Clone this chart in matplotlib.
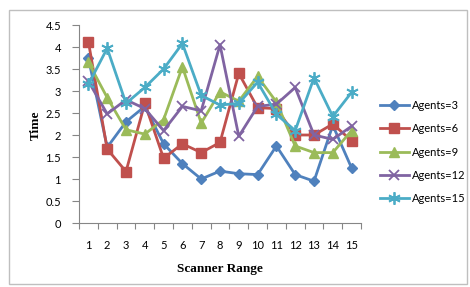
"""Time vs scanner range for different agent counts."""

import matplotlib

matplotlib.use("Agg")
import matplotlib.pyplot as plt
from matplotlib.patches import Rectangle
from matplotlib.ticker import FixedLocator, FuncFormatter

scanner_range = list(range(1, 16))
agents_3 = [3.75, 1.72, 2.3, 2.65, 1.8, 1.35, 1.0, 1.18, 1.12, 1.1, 1.75, 1.1, 0.95, 2.22, 1.25]
agents_6 = [4.12, 1.68, 1.17, 2.72, 1.47, 1.8, 1.6, 1.83, 3.4, 2.62, 2.6, 2.0, 2.0, 2.25, 1.87]
agents_9 = [3.65, 2.85, 2.12, 2.02, 2.35, 3.55, 2.27, 2.98, 2.77, 3.33, 2.75, 1.75, 1.6, 1.6, 2.1]
agents_12 = [3.22, 2.48, 2.8, 2.6, 2.1, 2.65, 2.55, 4.05, 1.97, 2.65, 2.7, 3.08, 2.0, 1.9, 2.2]
agents_15 = [3.15, 3.97, 2.72, 3.08, 3.5, 4.08, 2.9, 2.68, 2.72, 3.2, 2.47, 2.1, 3.3, 2.42, 2.97]

series = [
    ("Agents=3", agents_3, "#4F81BD", "D", 5),
    ("Agents=6", agents_6, "#C0504D", "s", 7),
    ("Agents=9", agents_9, "#9BBB59", "^", 7),
    ("Agents=12", agents_12, "#8064A2", "x", 7),
    ("Agents=15", agents_15, "#4BACC6", (6, 2, 0), 9),
]

plt.rcParams["font.family"] = ["Lato", "DejaVu Sans"]

fig = plt.figure(figsize=(4.7, 2.87), dpi=100)
fig.patches.append(Rectangle((9 / 470, 3 / 287), 458 / 470, 274 / 287,
                             transform=fig.transFigure, fill=False,
                             edgecolor="#BFBFBF", linewidth=1))
ax = fig.add_axes([79 / 470, 64 / 287, 282 / 470, 198 / 287])

for label, values, color, marker, size in series:
    ax.plot(scanner_range, values, color=color, marker=marker, markersize=size,
            linewidth=2, markeredgewidth=1.3 if marker in ("x", (6, 2, 0)) else 1,
            label=label)

ax.set_xlim(0.5, 15.5)
ax.set_ylim(0, 4.5)
ax.set_yticks([i * 0.5 for i in range(10)])
ax.yaxis.set_major_formatter(FuncFormatter(lambda v, _: f"{v:g}"))
ax.xaxis.set_major_locator(FixedLocator([i + 0.5 for i in range(16)]))
ax.xaxis.set_major_formatter(FuncFormatter(lambda v, _: ""))
ax.xaxis.set_minor_locator(FixedLocator(scanner_range))
ax.xaxis.set_minor_formatter(FuncFormatter(lambda v, _: f"{v:g}"))
ax.tick_params(axis="x", which="major", length=4, color="#868686", direction="out")
ax.tick_params(axis="x", which="minor", length=0, pad=12, labelsize=8)
ax.tick_params(axis="y", length=5, color="#868686", pad=8, labelsize=8)

for side in ("top", "right"):
    ax.spines[side].set_visible(False)
for side in ("left", "bottom"):
    ax.spines[side].set_color("#868686")

fig.text(36 / 470, 1 - 125 / 287, "Time", rotation=90, ha="center", va="center",
         family="Liberation Serif", fontweight="bold", fontsize=9.5)
fig.text(220 / 470, 1 - 269 / 287, "Scanner Range", ha="center", va="center",
         family="Liberation Serif", fontweight="bold", fontsize=9.5)

fig.legend(loc="center left", bbox_to_anchor=(380 / 470, 1 - 152 / 287),
           frameon=False, fontsize=8, handlelength=2.6, handletextpad=0.3,
           labelspacing=1.1, borderpad=0, borderaxespad=0)

fig.savefig("out.png", dpi=100)
